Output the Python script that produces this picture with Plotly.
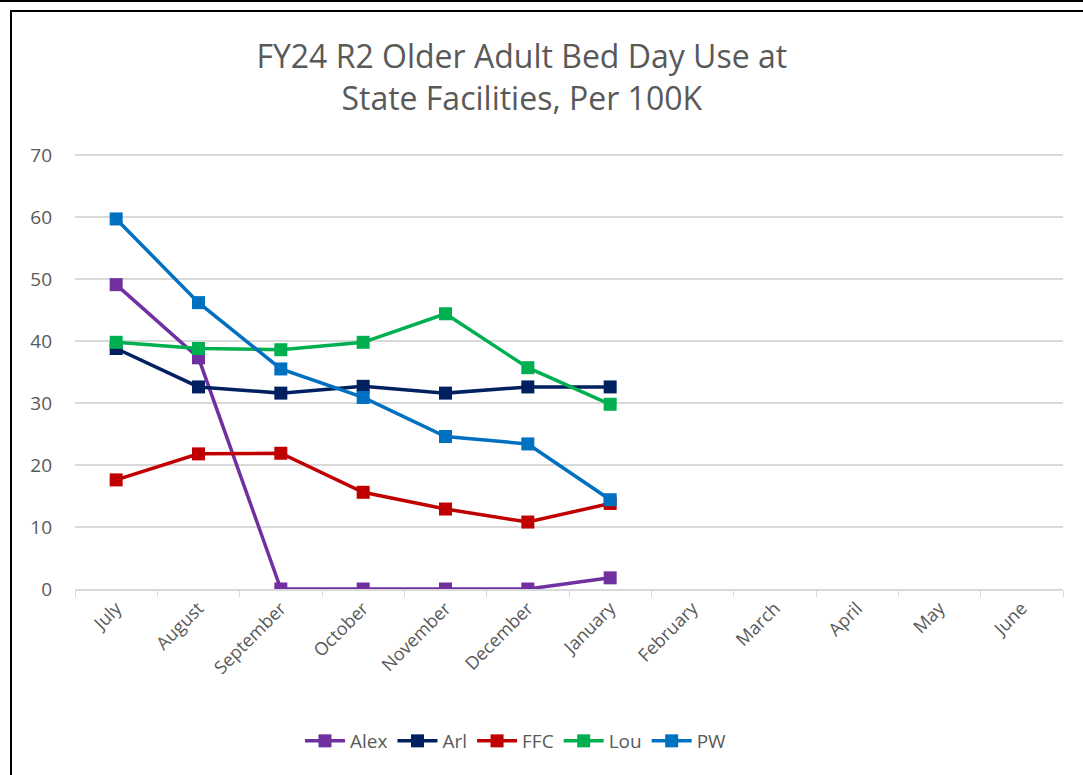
import plotly.graph_objects as go

months = ["July", "August", "September", "October", "November", "December",
          "January", "February", "March", "April", "May", "June"]
observed = months[:7]

alex = [49.1, 37.3, 0.0, 0.0, 0.0, 0.0, 1.8]
arl = [38.8, 32.6, 31.6, 32.7, 31.6, 32.6, 32.6]
ffc = [17.6, 21.8, 21.9, 15.6, 12.9, 10.8, 13.8]
lou = [39.8, 38.8, 38.6, 39.8, 44.4, 35.7, 29.8]
pw = [59.7, 46.2, 35.5, 30.9, 24.6, 23.4, 14.4]

series_names = ["Alex", "Arl", "FFC", "Lou", "PW"]
series_values = [alex, arl, ffc, lou, pw]
colors = ["#7030A0", "#002060", "#C00000", "#00B050", "#0070C0"]

fig = go.Figure()
for name, vals, col in zip(series_names, series_values, colors):
    fig.add_trace(go.Scatter(
        x=observed, y=vals, name=name, mode="lines+markers",
        line=dict(color=col, width=3.5),
        marker=dict(symbol="square", size=13, color=col),
    ))

W, H = 1083, 775
L, R, T, B = 75, 1063, 152, 589
YMAX = 70.5

def px_x(p):
    return (p - L) / (R - L)

def px_y(p):
    return (B - p) / (B - T)

shapes = [
    dict(type="line", xref="paper", yref="paper", x0=px_x(0), x1=px_x(W), y0=px_y(1), y1=px_y(1),
         line=dict(color="black", width=2)),
    dict(type="line", xref="paper", yref="paper", x0=px_x(10), x1=px_x(W), y0=px_y(11), y1=px_y(11),
         line=dict(color="black", width=2)),
    dict(type="line", xref="paper", yref="paper", x0=px_x(11), x1=px_x(11), y0=px_y(11), y1=px_y(H),
         line=dict(color="black", width=2)),
]

FONT = "Open Sans, sans-serif"
fig.update_layout(
    width=W, height=H,
    margin=dict(l=L, r=W - R, t=T, b=H - B, pad=0),
    paper_bgcolor="white", plot_bgcolor="white",
    font=dict(family=FONT, color="#595959", size=18),
    title=dict(text="FY24 R2 Older Adult Bed Day Use at<br>State Facilities, Per 100K",
               x=px_x(551), xanchor="center", y=1 - 68 / H, yanchor="middle",
               font=dict(size=32, color="#595959", family=FONT)),
    xaxis=dict(type="category", categoryorder="array", categoryarray=months,
               range=[-0.5, 11.5], showgrid=False, showline=True,
               linecolor="#d9d9d9", linewidth=1.5, ticks="outside", tickson="boundaries",
               ticklen=6, tickcolor="#d9d9d9", tickangle=-45, tickfont=dict(size=18),
               fixedrange=True),
    yaxis=dict(range=[0, YMAX], tickvals=[0, 10, 20, 30, 40, 50, 60, 70],
               showgrid=True, gridcolor="#d9d9d9", gridwidth=1.5,
               zeroline=False, showline=False, ticks="", ticklabelstandoff=22,
               tickfont=dict(size=19)),
    legend=dict(orientation="h", x=px_x(516), xanchor="center", y=px_y(741), yanchor="middle",
                font=dict(size=19), itemwidth=40),
    shapes=shapes,
    showlegend=True,
)

fig.write_html("out.html", config={"displayModeBar": False},
               post_script="document.body.style.margin='0px';document.body.style.padding='0px';")
